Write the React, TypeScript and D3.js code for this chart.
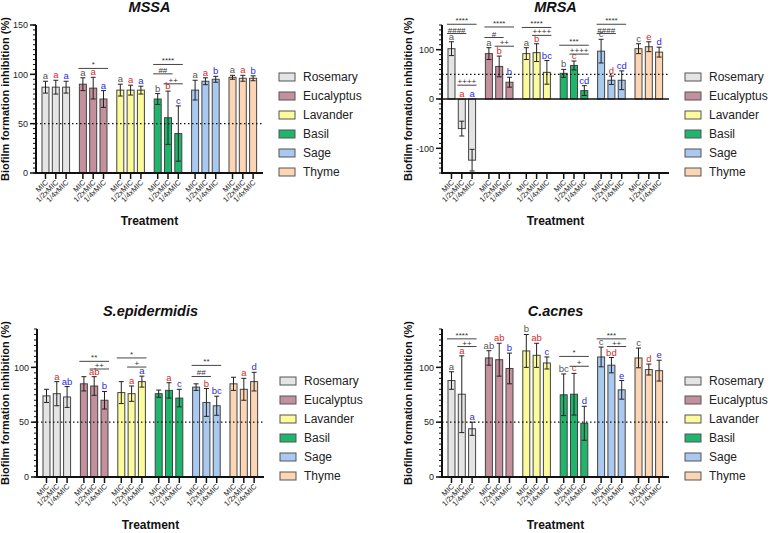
import React from 'react';
import * as d3 from 'd3';

const OILS = ["Rosemary", "Eucalyptus", "Lavander", "Basil", "Sage", "Thyme"];
const DOSES = ["MIC", "1/2xMIC", "1/4xMIC"];
const OIL_COLORS = ["#e4e4e4", "#c4909e", "#fbfb9c", "#1fb56c", "#a9c9f1", "#fcd6b4"];
const LETTER_COLORS = ["#555555", "#d42b2b", "#2b2be0"];

// [oil, fromDose, toDose, level, label]
type Sig = [number, number, number, number, string];

const MSSA_MEAN = [[87, 87, 87], [90, 86, 75], [84, 84, 84], [75, 56, 40], [84, 93, 95], [97, 96, 96]];
const MSSA_SD = [[6, 7, 6], [6.5, 11, 8.5], [6, 5, 4], [5.5, 27, 28], [10, 3.5, 3], [2, 3, 2.5]];
const MSSA_LETTERS = [["a", "a", "a"], ["a", "a", "a"], ["a", "a", "a"], ["b", "b", "c"], ["a", "a", "b"], ["a", "a", "b"]];
const MSSA_SIG: Sig[] = [[1, 0, 2, 106, "*"], [3, 0, 2, 110, "****"], [3, 0, 1, 100.5, "##"], [3, 1, 2, 90.4, "++"]];

const MRSA_MEAN = [[102, -60, -124], [92, 66, 34], [92, 94, 54], [52, 68, 17], [97, 38, 38], [102, 106, 95]];
const MRSA_SD = [[14, 15, 22], [12, 21, 10], [12, 18, 24], [8, 9, 10], [24, 8.5, 19], [10, 10, 10]];
const MRSA_LETTERS = [["a", "a", "a"], ["a", "b", "b"], ["a", "b", "bc"], ["b", "c", "cd"], ["c", "d", "cd"], ["c", "e", "d"]];
const MRSA_SIG: Sig[] = [
  [0, 0, 2, 151.5, "****"], [0, 0, 1, 132.7, "####"], [0, 1, 2, 28, "++++"],
  [1, 0, 2, 146, "****"], [1, 0, 1, 124.6, "#"], [1, 1, 2, 107, "++"],
  [2, 0, 2, 145, "****"], [2, 1, 2, 129, "++++"],
  [3, 0, 2, 109, "***"], [3, 1, 2, 91, "++++"],
  [4, 0, 2, 151.5, "****"], [4, 0, 1, 132.7, "####"],
];

const SEPI_MEAN = [[74, 76, 73], [85, 83, 70], [77, 76, 87], [76, 79, 72], [82, 68, 65], [85, 80, 87]];
const SEPI_SD = [[6, 11, 9.5], [6.5, 8.5, 8], [10, 7, 5], [3.3, 7, 8], [3, 12.7, 8.7], [6, 10, 8.5]];
const SEPI_LETTERS = [["", "a", "ab"], ["", "ab", "b"], ["", "a", "a"], ["", "a", "c"], ["", "b", "bc"], ["", "a", "d"]];
const SEPI_SIG: Sig[] = [
  [1, 0, 2, 105.5, "**"], [1, 1, 2, 98.5, "++"],
  [2, 0, 2, 108.6, "*"], [2, 1, 2, 100.3, "+"],
  [4, 0, 2, 101.8, "**"], [4, 0, 1, 91.7, "##"],
];

const CACNES_MEAN = [[88, 75.5, 44], [108.6, 107, 99], [115, 111, 104], [75, 75.5, 49], [109.5, 102, 79.5], [108.6, 98, 97]];
const CACNES_SD = [[8, 35, 6], [6.6, 15, 14], [15, 11, 5.5], [19, 19, 15.5], [9, 7, 8.5], [9, 5, 9.5]];
const CACNES_LETTERS = [["a", "a", "a"], ["ab", "ab", "b"], ["b", "ab", "c"], ["bc", "c", "d"], ["c", "bd", "e"], ["c", "d", "e"]];
const CACNES_SIG: Sig[] = [
  [0, 0, 2, 126, "****"], [0, 1, 2, 119, "++"],
  [3, 0, 2, 110, "*"], [3, 1, 2, 101, "+"],
  [4, 0, 2, 126, "***"], [4, 1, 2, 119, "++"],
];

const FONT = '"Liberation Sans", Arial, Helvetica, sans-serif';

const PANELS = [
  { title: "MSSA", mean: MSSA_MEAN, sd: MSSA_SD, letters: MSSA_LETTERS, sig: MSSA_SIG,
    domain: [0, 150], ticks: [0, 50, 100, 150], minor: 5, axisX: 36, top: 25, bottom: 173, labelX: 9 },
  { title: "MRSA", mean: MRSA_MEAN, sd: MRSA_SD, letters: MRSA_LETTERS, sig: MRSA_SIG,
    domain: [-150, 150], ticks: [-100, 0, 100], minor: 10, axisX: 442, top: 25, bottom: 173, labelX: 412 },
  { title: "S.epidermidis", mean: SEPI_MEAN, sd: SEPI_SD, letters: SEPI_LETTERS, sig: SEPI_SIG,
    domain: [0, 135], ticks: [0, 50, 100], minor: 5, axisX: 37, top: 329, bottom: 477, labelX: 9 },
  { title: "C.acnes", mean: CACNES_MEAN, sd: CACNES_SD, letters: CACNES_LETTERS, sig: CACNES_SIG,
    domain: [0, 135], ticks: [0, 50, 100], minor: 5, axisX: 442, top: 329, bottom: 477, labelX: 412 },
];

type PanelCfg = typeof PANELS[number];

const Panel: React.FC<{ p: PanelCfg }> = ({ p }) => {
  const y = d3.scaleLinear().domain(p.domain).range([p.bottom, p.top]);
  const width = 227;
  const right = p.axisX + width;
  const x0 = d3.scaleBand().domain(OILS).range([p.axisX, p.axisX + 226.6]).paddingInner(0.262).paddingOuter(0.16);
  const x1 = d3.scaleBand().domain(DOSES).range([0, x0.bandwidth()]).paddingInner(0.32).paddingOuter(0);
  const bw = x1.bandwidth();
  const cx = (oi: number, di: number) => (x0(OILS[oi]) as number) + (x1(DOSES[di]) as number) + bw / 2;
  const minor = d3.range(p.domain[0], p.domain[1] + 0.01, p.minor);
  const midX = p.axisX + width / 2;
  const legendX = p.axisX + 243;

  return (
    <g fontFamily={FONT}>
      <text x={midX} y={p.top - 13} textAnchor="middle" fontSize={14.5} fontWeight="bold" fontStyle="italic" fill="#111">{p.title}</text>
      <text transform={`translate(${p.labelX},${(p.top + p.bottom) / 2}) rotate(-90)`} textAnchor="middle"
        fontSize={11} fontWeight="bold" fill="#111">Biofilm formation inhibition (%)</text>

      {/* bars */}
      {p.mean.map((row, oi) => row.map((v, di) => (
        <rect key={`b${oi}-${di}`} x={cx(oi, di) - bw / 2} y={Math.min(y(0), y(v))} width={bw}
          height={Math.abs(y(v) - y(0))} fill={OIL_COLORS[oi]} stroke="#444" strokeWidth={1} />
      )))}

      {/* error bars */}
      {p.mean.map((row, oi) => row.map((v, di) => {
        const c = cx(oi, di);
        const lo = y(Math.max(p.domain[0], v - p.sd[oi][di]));
        const hi = y(v + p.sd[oi][di]);
        return (
          <g key={`e${oi}-${di}`} stroke="#222" strokeWidth={1}>
            <line x1={c} x2={c} y1={lo} y2={hi} />
            <line x1={c - 2.5} x2={c + 2.5} y1={hi} y2={hi} />
            {v - p.sd[oi][di] > p.domain[0] && <line x1={c - 2.5} x2={c + 2.5} y1={lo} y2={lo} />}
          </g>
        );
      }))}

      {/* letters */}
      {p.letters.map((row, oi) => row.map((t, di) => {
        const v = p.mean[oi][di];
        const ty = v < 0 ? y(0) - 2 : y(v + p.sd[oi][di]) - 2;
        return t ? (
          <text key={`l${oi}-${di}`} x={cx(oi, di)} y={ty} textAnchor="middle" fontSize={9.5}
            fill={LETTER_COLORS[di]}>{t}</text>
        ) : null;
      }))}

      {/* significance brackets */}
      {p.sig.map(([oi, a, b, lvl, label], i) => {
        const xa = cx(oi, a) - bw / 2 - 1;
        const xb = cx(oi, b) + bw / 2 + 1;
        return (
          <g key={`s${i}`}>
            <line x1={xa} x2={xb} y1={y(lvl)} y2={y(lvl)} stroke="#444" strokeWidth={1} />
            <text x={(xa + xb) / 2} y={y(lvl) - 1} textAnchor="middle" fontSize={8} fill="#333">{label}</text>
          </g>
        );
      })}

      {/* reference line */}
      <line x1={p.axisX} x2={right} y1={y(50)} y2={y(50)} stroke="#111" strokeWidth={1.2} strokeDasharray="1.5 2.5" />
      {p.domain[0] < 0 && <line x1={p.axisX} x2={right} y1={y(0)} y2={y(0)} stroke="#111" strokeWidth={1.5} />}

      {/* y axis */}
      <line x1={p.axisX} x2={p.axisX} y1={p.top} y2={p.bottom + 1} stroke="#111" strokeWidth={2} />
      {minor.map(t => (
        <line key={`m${t}`} x1={p.axisX - 3} x2={p.axisX} y1={y(t)} y2={y(t)} stroke="#111" strokeWidth={1} />
      ))}
      {p.ticks.map(t => (
        <g key={`t${t}`}>
          <line x1={p.axisX - 6} x2={p.axisX} y1={y(t)} y2={y(t)} stroke="#111" strokeWidth={1.5} />
          <text x={p.axisX - 8} y={y(t) + 3.2} textAnchor="end" fontSize={9} fill="#222">{t}</text>
        </g>
      ))}

      {/* x axis */}
      <line x1={p.axisX - 1} x2={right} y1={p.bottom} y2={p.bottom} stroke="#111" strokeWidth={2} />
      {OILS.map((_, oi) => DOSES.map((d, di) => {
        const c = cx(oi, di);
        return (
          <g key={`x${oi}-${di}`}>
            <line x1={c} x2={c} y1={p.bottom} y2={p.bottom + 6} stroke="#111" strokeWidth={1.5} />
            <text transform={`translate(${c + 3},${p.bottom + 10}) rotate(-45)`} textAnchor="end"
              fontSize={7.5} fill="#222">{d}</text>
          </g>
        );
      }))}
      <text x={midX} y={p.bottom + 52} textAnchor="middle" fontSize={12} fontWeight="bold" fill="#111">Treatment</text>

      {/* legend */}
      {OILS.map((name, i) => {
        const ly = p.top + 52 + i * 19;
        return (
          <g key={`lg${i}`}>
            <rect x={legendX} y={ly - 4} width={16} height={8} fill={OIL_COLORS[i]} stroke="#555" strokeWidth={1} />
            <text x={legendX + 24} y={ly + 4} fontSize={12} fill="#222">{name}</text>
          </g>
        );
      })}
    </g>
  );
};

const App: React.FC = () => (
  <svg width={770} height={533} style={{ position: 'absolute', left: 0, top: 0, background: '#fff' }}>
    {PANELS.map(p => <Panel key={p.title} p={p} />)}
  </svg>
);

export default App;
